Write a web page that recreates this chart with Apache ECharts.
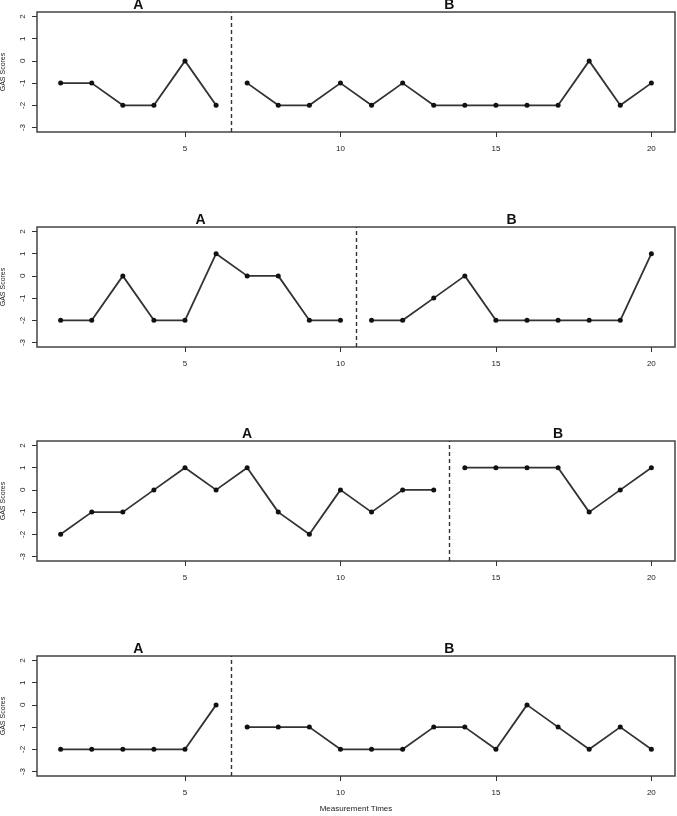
<!DOCTYPE html>
<html>
<head>
<meta charset="utf-8">
<script src="https://cdn.jsdelivr.net/npm/echarts@6/dist/echarts.min.js"></script>
<style>
  body { margin: 0; background: #fff; }
  #chart { width: 677px; height: 816px; }
</style>
</head>
<body>
<div id="chart"></div>
<script>
// measurement times (x) shared by all panels
var times = [1, 2, 3, 4, 5, 6, 7, 8, 9, 10, 11, 12, 13, 14, 15, 16, 17, 18, 19, 20];
// how many sessions belong to phase A in each panel
var phaseALength = [6, 10, 13, 6];
// GAS scores per panel
var gas1 = [-1, -1, -2, -2, 0, -2, -1, -2, -2, -1, -2, -1, -2, -2, -2, -2, -2, 0, -2, -1];
var gas2 = [-2, -2, 0, -2, -2, 1, 0, 0, -2, -2, -2, -2, -1, 0, -2, -2, -2, -2, -2, 1];
var gas3 = [-2, -1, -1, 0, 1, 0, 1, -1, -2, 0, -1, 0, 0, 1, 1, 1, 1, -1, 0, 1];
var gas4 = [-2, -2, -2, -2, -2, 0, -1, -1, -1, -2, -2, -2, -1, -1, -2, 0, -1, -2, -1, -2];
var xTicks = [5, 10, 15, 20];
var yTicks = [-3, -2, -1, 0, 1, 2];

var panels = [gas1, gas2, gas3, gas4];
var panelTops = [12, 227, 441, 656];
var fontFam = '"Liberation Sans", Arial, sans-serif';

var chartDom = document.getElementById('chart');
var myChart = echarts.init(chartDom);

var grids = [], xAxes = [], yAxes = [], series = [];

function mean(arr) {
  var s = 0;
  arr.forEach(function (v) { s += v; });
  return s / arr.length;
}

panels.forEach(function (gas, i) {
  grids.push({
    left: 37, right: 2, top: panelTops[i], height: 120,
    outerBoundsMode: 'none', containLabel: false,
    show: true, borderColor: '#444', borderWidth: 1.5, backgroundColor: 'transparent'
  });
  xAxes.push({
    gridIndex: i, type: 'value', min: 0.24, max: 20.76,
    splitLine: { show: false },
    axisLine: { show: false, onZero: false },
    axisTick: { show: true, customValues: xTicks, length: 5, lineStyle: { color: '#333' } },
    axisLabel: { customValues: xTicks, fontSize: 8, color: '#222', margin: 13, fontFamily: fontFam },
    name: i === 3 ? 'Measurement Times' : '',
    nameLocation: 'middle', nameGap: 29,
    nameTextStyle: { fontSize: 8, color: '#222', fontFamily: fontFam }
  });
  yAxes.push({
    gridIndex: i, type: 'value', min: -3.2, max: 2.2,
    splitLine: { show: false },
    axisLine: { show: false, onZero: false },
    axisTick: { show: true, customValues: yTicks, length: 5, lineStyle: { color: '#333' } },
    axisLabel: { customValues: yTicks, rotate: 90, fontSize: 8, color: '#222', margin: 10, fontFamily: fontFam },
    name: 'GAS Scores', nameLocation: 'middle', nameGap: 30,
    nameTextStyle: { fontSize: 7, color: '#222', fontFamily: fontFam }
  });

  var n = phaseALength[i];
  var phases = [
    { label: 'A', x: times.slice(0, n), y: gas.slice(0, n) },
    { label: 'B', x: times.slice(n), y: gas.slice(n) }
  ];
  phases.forEach(function (p, k) {
    var s = {
      type: 'line', xAxisIndex: i, yAxisIndex: i,
      data: p.x.map(function (t, j) { return [t, p.y[j]]; }),
      symbol: 'circle', symbolSize: 5,
      itemStyle: { color: '#111' },
      lineStyle: { color: '#333', width: 1.8 },
      silent: true, animation: false,
      markPoint: {
        symbol: 'circle', symbolSize: 0, silent: true,
        data: [{ coord: [mean(p.x), 2.2] }],
        label: {
          show: true, position: 'top', distance: 0,
          formatter: p.label, fontSize: 14, fontWeight: 'bold', color: '#111', fontFamily: fontFam
        }
      }
    };
    if (k === 0) {
      s.markLine = {
        symbol: 'none', silent: true,
        label: { show: false },
        lineStyle: { color: '#333', type: [4, 3], width: 1.4 },
        data: [{ xAxis: n + 0.5 }]
      };
    }
    series.push(s);
  });
});

var option = {
  animation: false,
  grid: grids,
  xAxis: xAxes,
  yAxis: yAxes,
  series: series
};
myChart.setOption(option, true);
</script>
</body>
</html>
